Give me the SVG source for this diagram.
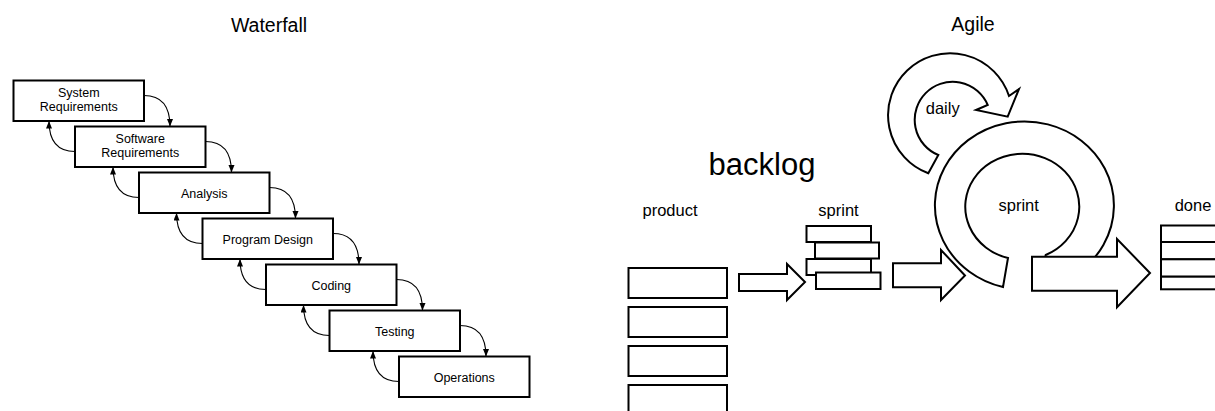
<svg xmlns="http://www.w3.org/2000/svg" width="1215" height="411" viewBox="0 0 1215 411">
<style>
text{font-family:"Liberation Sans",Arial,Helvetica,sans-serif;fill:#000;text-anchor:middle}
.t{font-size:19.5px}
.bx{font-size:12.5px}
.lb{font-size:16.5px}
.box{fill:#fff;stroke:#000;stroke-width:2}
.shape{fill:#fff;stroke:#000;stroke-width:2;stroke-linejoin:miter}
.con{fill:none;stroke:#000;stroke-width:1.1}
</style>
<defs>
<marker id="ah" markerUnits="userSpaceOnUse" markerWidth="8" markerHeight="7" refX="7.5" refY="3" orient="auto">
<path d="M0,0 L7.5,3 L0,6 Z" fill="#000"/>
</marker>
</defs>
<rect width="1215" height="411" fill="#fff"/>
<text class="t" x="269" y="32">Waterfall</text>
<text class="t" x="973" y="31">Agile</text>

<g id="connectors">
<path class="con" marker-end="url(#ah)" d="M144,95.5 C160,95.5 170,103.5 170,126.5"/>
<path class="con" marker-end="url(#ah)" d="M205.5,141.5 C221.5,141.5 231.5,149.5 231.5,172.5"/>
<path class="con" marker-end="url(#ah)" d="M269.5,187.5 C285.5,187.5 295.5,195.5 295.5,218.5"/>
<path class="con" marker-end="url(#ah)" d="M333,233.5 C349,233.5 359,241.5 359,264.5"/>
<path class="con" marker-end="url(#ah)" d="M396.5,279.5 C412.5,279.5 422.5,287.5 422.5,310.5"/>
<path class="con" marker-end="url(#ah)" d="M460,325.5 C476,325.5 486,333.5 486,356.5"/>
<path class="con" marker-end="url(#ah)" d="M75,151.5 C59,151.5 49,143.5 49,121"/>
<path class="con" marker-end="url(#ah)" d="M139,197.5 C123,197.5 113,189.5 113,167"/>
<path class="con" marker-end="url(#ah)" d="M202.5,243.5 C186.5,243.5 176.5,235.5 176.5,213"/>
<path class="con" marker-end="url(#ah)" d="M266,289.5 C250,289.5 240,281.5 240,259"/>
<path class="con" marker-end="url(#ah)" d="M329.5,335.5 C313.5,335.5 303.5,327.5 303.5,305"/>
<path class="con" marker-end="url(#ah)" d="M399,381.5 C383,381.5 373,373.5 373,351"/>
</g>

<g id="system-requirements">
<rect class="box" x="13.5" y="80.5" width="130.5" height="40.5"/>
<text class="bx" x="78.75" y="96.5">System</text>
<text class="bx" x="78.75" y="110.5">Requirements</text>
</g>
<g id="software-requirements">
<rect class="box" x="75" y="126.5" width="130.5" height="40.5"/>
<text class="bx" x="140.25" y="142.5">Software</text>
<text class="bx" x="140.25" y="156.5">Requirements</text>
</g>
<g id="analysis">
<rect class="box" x="139" y="172.5" width="130.5" height="40.5"/>
<text class="bx" x="204.25" y="197.5">Analysis</text>
</g>
<g id="program-design">
<rect class="box" x="202.5" y="218.5" width="130.5" height="40.5"/>
<text class="bx" x="267.75" y="243.5">Program Design</text>
</g>
<g id="coding">
<rect class="box" x="266" y="264.5" width="130.5" height="40.5"/>
<text class="bx" x="331.25" y="289.5">Coding</text>
</g>
<g id="testing">
<rect class="box" x="329.5" y="310.5" width="130.5" height="40.5"/>
<text class="bx" x="394.75" y="335.5">Testing</text>
</g>
<g id="operations">
<rect class="box" x="399" y="356.5" width="130.5" height="40.5"/>
<text class="bx" x="464.25" y="381.5">Operations</text>
</g>

<text x="762" y="175" style="font-size:31px">backlog</text>

<g id="product-backlog">
<text class="lb" x="670" y="216">product</text>
<rect class="box" x="628.5" y="268" width="98.5" height="30"/>
<rect class="box" x="628.5" y="307" width="98.5" height="30"/>
<rect class="box" x="628.5" y="346" width="98.5" height="30"/>
<rect class="box" x="628.5" y="385" width="98.5" height="30"/>
</g>

<g id="arrow-1">
<polygon class="shape" points="739,274 787,274 787,264 805,282 787,300 787,291 739,291"/>
</g>

<g id="sprint-backlog">
<text class="lb" x="838.5" y="216">sprint</text>
<rect class="box" x="806.5" y="226" width="64.5" height="16"/>
<rect class="box" x="815" y="242.5" width="64" height="16"/>
<rect class="box" x="806.5" y="259" width="64.5" height="16"/>
<rect class="box" x="816" y="272.5" width="64.5" height="16.5"/>
</g>

<g id="daily">
<path class="shape" d="M928.3,173.3 A62,62 0 1 1 1009,96 L1019,89 L1007.7,116.7 L976,110 L987.7,105 A38,38 0 1 0 938.3,155 Z"/>
<text class="lb" x="942.7" y="113.5">daily</text>
</g>

<g id="sprint-cycle">
<path class="shape" d="M1003,287 A89.5,84 0 1 1 1079,272 L1044,263 L1045.7,255 A57,53 0 1 0 1008,258 Z"/>
<text class="lb" x="1018.7" y="211">sprint</text>
</g>

<g id="arrow-2">
<polygon class="shape" points="893,263.3 941,263.3 941,250 965,275.5 941,300 941,287.3 893,287.3"/>
</g>

<g id="arrow-3">
<polygon class="shape" points="1032,256.7 1117,256.7 1117,239 1150,273 1117,307.3 1117,290.7 1032,290.7"/>
</g>

<g id="done">
<text class="lb" x="1193" y="211">done</text>
<rect class="box" x="1161" y="225.5" width="70" height="16.5"/>
<rect class="box" x="1161" y="242" width="70" height="17.3"/>
<rect class="box" x="1161" y="259.3" width="70" height="17.4"/>
<rect class="box" x="1161" y="276.7" width="70" height="12.6"/>
</g>
</svg>
